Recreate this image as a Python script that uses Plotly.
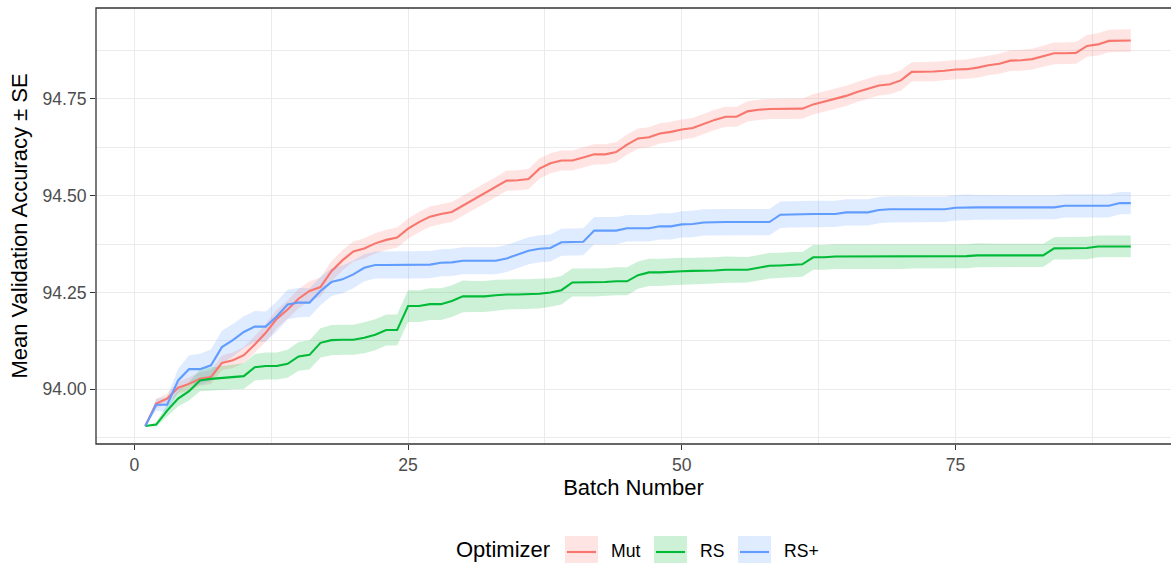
import plotly.graph_objects as go

batch = list(range(1, 92))

mut_mean = [93.905, 93.963, 93.976, 94.004, 94.014, 94.027, 94.032, 94.068, 94.075, 94.088,
            94.116, 94.146, 94.182, 94.206, 94.234, 94.254, 94.264, 94.305, 94.333, 94.356,
            94.364, 94.377, 94.386, 94.392, 94.415, 94.432, 94.446, 94.453, 94.458, 94.474,
            94.489, 94.506, 94.522, 94.539, 94.540, 94.543, 94.570, 94.584, 94.591, 94.591,
            94.599, 94.607, 94.607, 94.613, 94.632, 94.648, 94.651, 94.661, 94.665, 94.671,
            94.675, 94.686, 94.696, 94.704, 94.704, 94.718, 94.722, 94.724, 94.724, 94.724,
            94.725, 94.736, 94.743, 94.750, 94.758, 94.768, 94.777, 94.785, 94.788, 94.798,
            94.820, 94.820, 94.821, 94.823, 94.826, 94.827, 94.831, 94.837, 94.841, 94.849,
            94.850, 94.853, 94.860, 94.868, 94.868, 94.869, 94.887, 94.891, 94.900, 94.901,
            94.901]
mut_se = [0.000, 0.012, 0.013, 0.015, 0.017, 0.018, 0.018, 0.019, 0.020, 0.021,
          0.022, 0.023, 0.024, 0.024, 0.025, 0.025, 0.025, 0.026, 0.026, 0.026,
          0.026, 0.026, 0.026, 0.026, 0.026, 0.026, 0.026, 0.026, 0.026, 0.026,
          0.026, 0.026, 0.026, 0.026, 0.026, 0.026, 0.026, 0.026, 0.026, 0.026,
          0.026, 0.026, 0.026, 0.026, 0.026, 0.026, 0.026, 0.026, 0.026, 0.026,
          0.026, 0.026, 0.026, 0.026, 0.026, 0.026, 0.026, 0.026, 0.026, 0.026,
          0.026, 0.026, 0.026, 0.026, 0.026, 0.026, 0.026, 0.026, 0.026, 0.026,
          0.025, 0.025, 0.025, 0.025, 0.025, 0.025, 0.026, 0.026, 0.026, 0.027,
          0.027, 0.027, 0.027, 0.028, 0.028, 0.028, 0.028, 0.029, 0.029, 0.029,
          0.029]

rs_mean = [93.905, 93.909, 93.945, 93.976, 93.995, 94.023, 94.027, 94.029, 94.032, 94.034,
           94.057, 94.060, 94.060, 94.066, 94.085, 94.089, 94.120, 94.127, 94.128, 94.128,
           94.133, 94.141, 94.153, 94.153, 94.215, 94.215, 94.220, 94.220, 94.228, 94.240,
           94.240, 94.240, 94.243, 94.245, 94.245, 94.246, 94.247, 94.250, 94.256, 94.276,
           94.276, 94.276, 94.277, 94.279, 94.279, 94.295, 94.302, 94.302, 94.304, 94.305,
           94.306, 94.306, 94.307, 94.309, 94.309, 94.309, 94.314, 94.319, 94.320, 94.322,
           94.323, 94.341, 94.341, 94.343, 94.343, 94.343, 94.343, 94.343, 94.343, 94.343,
           94.343, 94.343, 94.343, 94.344, 94.344, 94.344, 94.346, 94.346, 94.346, 94.346,
           94.346, 94.346, 94.346, 94.364, 94.364, 94.364, 94.365, 94.369, 94.369, 94.369,
           94.369]
rs_se = [0.000, 0.006, 0.015, 0.020, 0.024, 0.028, 0.030, 0.031, 0.032, 0.033,
         0.034, 0.035, 0.035, 0.036, 0.037, 0.038, 0.038, 0.039, 0.039, 0.039,
         0.040, 0.040, 0.040, 0.040, 0.041, 0.041, 0.041, 0.041, 0.041, 0.041,
         0.040, 0.040, 0.040, 0.039, 0.039, 0.038, 0.038, 0.037, 0.037, 0.036,
         0.036, 0.036, 0.036, 0.036, 0.036, 0.035, 0.035, 0.035, 0.035, 0.035,
         0.034, 0.034, 0.034, 0.034, 0.034, 0.033, 0.033, 0.033, 0.033, 0.033,
         0.032, 0.032, 0.032, 0.032, 0.032, 0.032, 0.032, 0.032, 0.032, 0.032,
         0.031, 0.031, 0.031, 0.031, 0.031, 0.031, 0.031, 0.030, 0.030, 0.030,
         0.030, 0.030, 0.030, 0.029, 0.029, 0.029, 0.029, 0.028, 0.028, 0.028,
         0.028]

rsp_mean = [93.905, 93.960, 93.960, 94.023, 94.052, 94.052, 94.062, 94.109, 94.127, 94.148,
            94.162, 94.162, 94.188, 94.219, 94.224, 94.224, 94.254, 94.277, 94.284, 94.297,
            94.314, 94.321, 94.321, 94.321, 94.321, 94.321, 94.322, 94.327, 94.328, 94.332,
            94.332, 94.332, 94.332, 94.338, 94.349, 94.358, 94.363, 94.365, 94.380, 94.380,
            94.381, 94.410, 94.410, 94.410, 94.416, 94.416, 94.416, 94.421, 94.421, 94.426,
            94.427, 94.431, 94.432, 94.432, 94.432, 94.432, 94.432, 94.432, 94.451, 94.452,
            94.452, 94.453, 94.453, 94.453, 94.457, 94.457, 94.457, 94.463, 94.465, 94.465,
            94.465, 94.465, 94.465, 94.465, 94.469, 94.470, 94.470, 94.470, 94.470, 94.470,
            94.470, 94.470, 94.470, 94.470, 94.474, 94.474, 94.474, 94.474, 94.474, 94.481,
            94.481]
rsp_se = [0.000, 0.015, 0.020, 0.030, 0.036, 0.040, 0.041, 0.042, 0.042, 0.041,
          0.040, 0.039, 0.039, 0.038, 0.038, 0.037, 0.037, 0.036, 0.036, 0.036,
          0.035, 0.035, 0.035, 0.035, 0.035, 0.035, 0.035, 0.035, 0.035, 0.035,
          0.035, 0.035, 0.035, 0.035, 0.035, 0.035, 0.035, 0.035, 0.035, 0.035,
          0.035, 0.035, 0.035, 0.035, 0.034, 0.034, 0.034, 0.034, 0.034, 0.034,
          0.034, 0.034, 0.034, 0.034, 0.034, 0.034, 0.034, 0.034, 0.034, 0.034,
          0.034, 0.034, 0.034, 0.034, 0.034, 0.034, 0.034, 0.034, 0.034, 0.034,
          0.033, 0.033, 0.033, 0.033, 0.033, 0.033, 0.032, 0.032, 0.032, 0.032,
          0.031, 0.031, 0.031, 0.031, 0.030, 0.030, 0.030, 0.030, 0.030, 0.029,
          0.029]

optimizers = ["Mut", "RS", "RS+"]
line_colors = ["#F8766D", "#00BA38", "#619CFF"]
fill_colors = ["rgba(248,118,109,0.2)", "rgba(0,186,56,0.2)", "rgba(97,156,255,0.2)"]
key_fills = ["#FEE4E2", "#CCF1D7", "#DFEBFF"]

x_ticks = [0, 25, 50, 75]
y_ticks = [94.00, 94.25, 94.50, 94.75]
y_tick_labels = ["94.00", "94.25", "94.50", "94.75"]

series = [(mut_mean, mut_se), (rs_mean, rs_se), (rsp_mean, rsp_se)]

fig = go.Figure()

# ribbons first (mean ± SE)
for (m, s), name, fc in zip(series, optimizers, fill_colors):
    upper = [a + b for a, b in zip(m, s)]
    lower = [a - b for a, b in zip(m, s)]
    fig.add_trace(go.Scatter(
        x=batch + batch[::-1], y=upper + lower[::-1],
        fill="toself", fillcolor=fc, line=dict(width=0), mode="lines",
        hoverinfo="skip", showlegend=False, name=name + " SE"))

for (m, s), name, lc in zip(series, optimizers, line_colors):
    fig.add_trace(go.Scatter(
        x=batch, y=m, mode="lines", name=name,
        line=dict(color=lc, width=2.1), showlegend=False))

W, H = 1171, 563
L, R, T, B = 96, 0, 8, 119
PW, PH = W - L - R, H - T - B


def px(xpix):
    return (xpix - L) / PW


def py(ypix):
    return (T + PH - ypix) / PH


grid_major = "#EBEBEB"
font_family = "Liberation Sans, Arial, sans-serif"

fig.update_layout(
    width=W, height=H,
    margin=dict(l=L, r=R, t=T, b=B, pad=0),
    paper_bgcolor="white", plot_bgcolor="white",
    font=dict(family=font_family, size=17.6, color="#4D4D4D"),
    showlegend=False,
    xaxis=dict(
        range=[-3.5, -3.5 + PW / 10.95],
        tickvals=x_ticks, ticktext=[str(v) for v in x_ticks],
        ticks="outside", ticklen=5, tickwidth=1.3, tickcolor="#333333",
        tickfont=dict(size=17.6, color="#4D4D4D"),
        showgrid=True, gridcolor=grid_major, gridwidth=1.4,
        minor=dict(tickvals=[12.5, 37.5, 62.5, 87.5], showgrid=True,
                   gridcolor=grid_major, gridwidth=0.7, ticks=""),
        zeroline=False, showline=False,
        title=dict(text="Batch Number", font=dict(size=22, color="black"), standoff=4),
    ),
    yaxis=dict(
        range=[94 - (T + PH - 389.3) / 387.1, 94 + (389.3 - T) / 387.1],
        tickvals=y_ticks, ticktext=y_tick_labels,
        ticks="outside", ticklen=5, tickwidth=1.3, tickcolor="#333333",
        tickfont=dict(size=17.6, color="#4D4D4D"),
        showgrid=True, gridcolor=grid_major, gridwidth=1.4,
        minor=dict(tickvals=[93.875, 94.125, 94.375, 94.625, 94.875], showgrid=True,
                   gridcolor=grid_major, gridwidth=0.7, ticks=""),
        zeroline=False, showline=False,
        title=dict(text="Mean Validation Accuracy ± SE", font=dict(size=22, color="black"), standoff=8),
    ),
)

shapes = [dict(type="rect", xref="paper", yref="paper", x0=0, x1=1.05, y0=0, y1=1,
               line=dict(color="#333333", width=1.3), fillcolor="rgba(0,0,0,0)", layer="above")]
annotations = [dict(text="Optimizer", xref="paper", yref="paper", x=px(455), y=py(549),
                    xanchor="left", yanchor="middle", showarrow=False, borderpad=0,
                    font=dict(size=22, color="black", family=font_family))]
key_left = [565, 654, 738]
label_left = [610, 699, 783]
for name, lc, kf, kx, lx in zip(optimizers, line_colors, key_fills, key_left, label_left):
    shapes.append(dict(type="rect", xref="paper", yref="paper", x0=px(kx), x1=px(kx + 33),
                       y0=py(570), y1=py(536), line=dict(width=0), fillcolor=kf))
    shapes.append(dict(type="line", xref="paper", yref="paper", x0=px(kx + 2), x1=px(kx + 31),
                       y0=py(552), y1=py(552), line=dict(color=lc, width=2.1)))
    annotations.append(dict(text=name, xref="paper", yref="paper", x=px(lx), y=py(551),
                            xanchor="left", yanchor="middle", showarrow=False, borderpad=0,
                            font=dict(size=17.6, color="black", family=font_family)))

fig.update_layout(shapes=shapes, annotations=annotations)
fig.write_html("out.html")
